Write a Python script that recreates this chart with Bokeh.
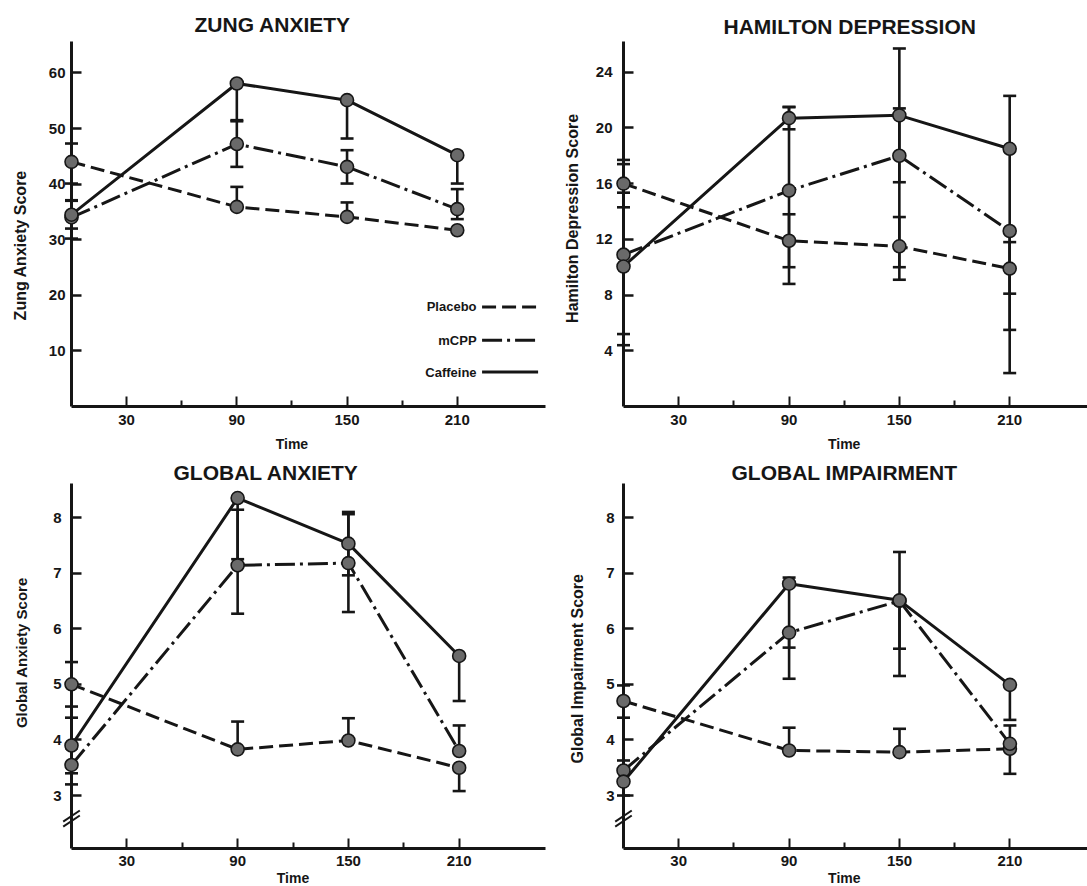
from math import pi

from bokeh.embed import file_html
from bokeh.core.properties import value
from bokeh.layouts import column, row
from bokeh.models import FixedTicker, Range1d
from bokeh.plotting import figure
from bokeh.resources import INLINE

# ---------------- data ----------------
TIME = [0, 90, 150, 210]
X_MAJOR_TICKS = [30, 90, 150, 210]
X_MINOR_TICKS = [60, 120, 180]
SERIES_NAMES = ["Placebo", "mCPP", "Caffeine"]

# Zung Anxiety
ZUNG_PLACEBO = [44.0, 35.9, 34.1, 31.7]
ZUNG_PLACEBO_UP = [3.3, 3.6, 2.6, 0.0]
ZUNG_PLACEBO_DN = [3.9, 0.0, 0.0, 0.0]
ZUNG_MCPP = [34.0, 47.2, 43.1, 35.5]
ZUNG_MCPP_UP = [3.1, 4.1, 3.0, 3.6]
ZUNG_MCPP_DN = [3.8, 4.1, 3.0, 1.8]
ZUNG_CAFF = [34.5, 58.1, 55.1, 45.2]
ZUNG_CAFF_UP = [2.5, 0.0, 0.0, 0.0]
ZUNG_CAFF_DN = [2.5, 6.6, 6.9, 5.1]
ZUNG_Y_TICKS = [10, 20, 30, 40, 50, 60]

# Hamilton Depression
HAM_PLACEBO = [16.0, 11.9, 11.5, 9.9]
HAM_PLACEBO_UP = [1.7, 1.9, 2.1, 1.9]
HAM_PLACEBO_DN = [1.7, 1.9, 1.5, 1.8]
HAM_MCPP = [10.9, 15.5, 18.0, 12.6]
HAM_MCPP_UP = [6.5, 6.0, 3.4, 0.0]
HAM_MCPP_DN = [6.5, 6.7, 8.9, 7.1]
HAM_CAFF = [10.05, 20.7, 20.9, 18.5]
HAM_CAFF_UP = [5.3, 0.8, 4.8, 3.8]
HAM_CAFF_DN = [4.85, 0.8, 4.8, 16.1]
HAM_Y_TICKS = [4, 8, 12, 16, 20, 24]

# Global Anxiety
GA_PLACEBO = [5.0, 3.83, 3.99, 3.5]
GA_PLACEBO_UP = [0.4, 0.5, 0.4, 0.0]
GA_PLACEBO_DN = [0.4, 0.0, 0.0, 0.42]
GA_MCPP = [3.55, 7.14, 7.18, 3.8]
GA_MCPP_UP = [0.3, 1.0, 0.88, 0.46]
GA_MCPP_DN = [0.35, 0.87, 0.88, 0.0]
GA_CAFF = [3.9, 8.35, 7.53, 5.51]
GA_CAFF_UP = [0.5, 0.0, 0.57, 0.0]
GA_CAFF_DN = [0.5, 1.1, 0.57, 0.81]

# Global Impairment
GI_PLACEBO = [4.7, 3.81, 3.78, 3.84]
GI_PLACEBO_UP = [0.28, 0.41, 0.42, 0.0]
GI_PLACEBO_DN = [0.3, 0.0, 0.0, 0.45]
GI_MCPP = [3.45, 5.93, 6.5, 3.93]
GI_MCPP_UP = [0.18, 0.0, 0.0, 0.33]
GI_MCPP_DN = [0.0, 0.83, 1.35, 0.0]
GI_CAFF = [3.25, 6.81, 6.51, 4.99]
GI_CAFF_UP = [0.0, 0.11, 0.87, 0.0]
GI_CAFF_DN = [0.25, 1.15, 0.87, 0.63]
GLOBAL_Y_TICKS = [3, 4, 5, 6, 7, 8]

# ---------------- styles ----------------
FONT = "Liberation Sans"
INK = "#161616"
MARKER_FILL = "#6a6a6a"
DASHES = {"Placebo": "14 6", "mCPP": "20 5 3 5", "Caffeine": "solid"}

# legend (panel 1) layout in data units
LEGEND_TEXT_X = 220.5
LEGEND_LINE_X = (223.5, 254.0)
LEGEND_ROWS_Y = [17.9, 11.9, 6.2]
TIME_LABEL_X = 120


def make_panel(cfg, series, y_ticks, title, ylabel, legend=False, y_break=None):
    sx, sy = cfg["x_scale"], cfg["y_scale"]
    x1 = cfg["frame_w"] / sx
    y0 = cfg["y_start"]
    y1 = y0 + cfg["frame_h"] / sy

    p = figure(
        frame_width=cfg["frame_w"], frame_height=cfg["frame_h"],
        x_range=Range1d(0, x1), y_range=Range1d(y0, y1),
        min_border_left=cfg["bl"], min_border_right=cfg["br"],
        min_border_top=cfg["bt"], min_border_bottom=cfg["bb"],
        toolbar_location=None, output_backend="svg", title=title,
    )
    p.outline_line_color = None
    p.xgrid.visible = False
    p.ygrid.visible = False
    p.background_fill_color = "white"
    p.border_fill_color = "white"

    t = p.title
    t.align = "left"
    t.offset = cfg["title_offset"]
    t.standoff = cfg["title_standoff"]
    t.vertical_align = "bottom"
    t.text_font = FONT
    t.text_font_size = "21px"
    t.text_font_style = "bold"
    t.text_color = INK

    xa = p.xaxis[0]
    xa.ticker = FixedTicker(ticks=X_MAJOR_TICKS, minor_ticks=X_MINOR_TICKS)
    xa.axis_line_width = 3
    xa.axis_line_color = INK
    xa.major_tick_in = 10
    xa.major_tick_out = 0
    xa.minor_tick_in = 6
    xa.minor_tick_out = 0
    xa.major_tick_line_width = 2
    xa.minor_tick_line_width = 2
    xa.major_tick_line_color = INK
    xa.minor_tick_line_color = INK
    xa.major_label_standoff = cfg["xlab_standoff"]
    xa.major_label_text_font = FONT
    xa.major_label_text_font_size = "15px"
    xa.major_label_text_font_style = "bold"
    xa.major_label_text_color = INK

    ya = p.yaxis[0]
    ya.ticker = FixedTicker(ticks=y_ticks, minor_ticks=[])
    ya.axis_line_width = 3
    ya.axis_line_color = INK
    ya.major_tick_in = 10
    ya.major_tick_out = 0
    ya.major_tick_line_width = 2.5
    ya.major_tick_line_color = INK
    ya.minor_tick_line_color = None
    ya.major_label_standoff = cfg["ylab_standoff"]
    ya.major_label_text_font = FONT
    ya.major_label_text_font_size = "15px"
    ya.major_label_text_font_style = "bold"
    ya.major_label_text_color = INK

    # connecting lines
    for name, (ys, up, dn) in zip(SERIES_NAMES, series):
        p.line(TIME, ys, line_width=3, line_color=INK, line_dash=DASHES[name])

    # error bars
    for name, (ys, up, dn) in zip(SERIES_NAMES, series):
        tops = [v + u for v, u in zip(ys, up)]
        bots = [v - d for v, d in zip(ys, dn)]
        p.segment(x0=TIME, y0=bots, x1=TIME, y1=tops, line_width=2.6, line_color=INK,
                  level="overlay")
        cx = [tt for tt, u in zip(TIME, up) if u > 0] + [tt for tt, d in zip(TIME, dn) if d > 0]
        cy = [v for v, u in zip(tops, up) if u > 0] + [v for v, d in zip(bots, dn) if d > 0]
        p.scatter(cx, cy, marker="dash", size=13, line_width=2.6, line_color=INK,
                  level="overlay")

    # points
    for name, (ys, up, dn) in zip(SERIES_NAMES, series):
        p.scatter(TIME, ys, marker="circle", size=13, fill_color=MARKER_FILL,
                  line_color=INK, line_width=1.6, level="overlay")

    if y_break is not None:
        for yb in y_break:
            p.segment(x0=[-4.5], y0=[yb - 0.1], x1=[4.5], y1=[yb + 0.1],
                      line_width=2, line_color=INK, level="overlay")

    if legend:
        p.text(x=[LEGEND_TEXT_X] * 3, y=LEGEND_ROWS_Y, text=SERIES_NAMES,
               text_align="right", text_baseline="middle",
               text_font=value(FONT), text_font_size="13px",
               text_font_style="bold", text_color=INK)
        for name, ly in zip(SERIES_NAMES, LEGEND_ROWS_Y):
            p.line(list(LEGEND_LINE_X), [ly, ly], line_width=3, line_color=INK,
                   line_dash=DASHES[name])

    # y-axis title (rotated)
    p.text(x=[cfg["ylabel_px"] / sx], y=[cfg["ylabel_y"]], text=[ylabel], angle=pi / 2,
           text_align="center", text_baseline="middle", text_font=value(FONT),
           text_font_size=cfg["ylabel_size"], text_font_style="bold", text_color=INK,
           level="overlay")
    # x-axis title
    p.text(x=[TIME_LABEL_X], y=[y0 - cfg["time_below"] / sy], text=["Time"],
           text_align="center", text_baseline="alphabetic", text_font=value(FONT),
           text_font_size="14px", text_font_style="bold", text_color=INK,
           level="overlay")
    return p


# top row: both frames share top (41) and bottom (406); bottom row: 483 .. 848
P1 = dict(bl=71, br=5, bt=41, bb=44, frame_w=474, frame_h=365, x_scale=1.837,
          y_start=0, y_scale=5.56, xlab_standoff=8, ylab_standoff=6,
          title_offset=123, title_standoff=12,
          ylabel_px=-50.7, ylabel_y=29.0, ylabel_size="16px", time_below=37)
P2 = dict(bl=73, br=0, bt=41, bb=44, frame_w=464, frame_h=365, x_scale=1.839,
          y_start=0, y_scale=13.93, xlab_standoff=8, ylab_standoff=11,
          title_offset=100, title_standoff=8,
          ylabel_px=-50.6, ylabel_y=13.5, ylabel_size="16px", time_below=37)
P3 = dict(bl=71, br=5, bt=33, bb=36, frame_w=474, frame_h=365, x_scale=1.846,
          y_start=2.047, y_scale=55.6, xlab_standoff=7, ylab_standoff=10,
          title_offset=102, title_standoff=0,
          ylabel_px=-50.1, ylabel_y=5.57, ylabel_size="15px", time_below=29)
P4 = dict(bl=73, br=0, bt=33, bb=36, frame_w=464, frame_h=365, x_scale=1.84,
          y_start=2.047, y_scale=55.6, xlab_standoff=7, ylab_standoff=9,
          title_offset=108, title_standoff=0,
          ylabel_px=-46.0, ylabel_y=5.28, ylabel_size="16px", time_below=29)

BREAK_Y = [2.54, 2.63]

p1 = make_panel(P1, [(ZUNG_PLACEBO, ZUNG_PLACEBO_UP, ZUNG_PLACEBO_DN),
                     (ZUNG_MCPP, ZUNG_MCPP_UP, ZUNG_MCPP_DN),
                     (ZUNG_CAFF, ZUNG_CAFF_UP, ZUNG_CAFF_DN)],
                ZUNG_Y_TICKS, "ZUNG ANXIETY", "Zung Anxiety Score", legend=True)
p2 = make_panel(P2, [(HAM_PLACEBO, HAM_PLACEBO_UP, HAM_PLACEBO_DN),
                     (HAM_MCPP, HAM_MCPP_UP, HAM_MCPP_DN),
                     (HAM_CAFF, HAM_CAFF_UP, HAM_CAFF_DN)],
                HAM_Y_TICKS, "HAMILTON DEPRESSION", "Hamilton Depression Score")
p3 = make_panel(P3, [(GA_PLACEBO, GA_PLACEBO_UP, GA_PLACEBO_DN),
                     (GA_MCPP, GA_MCPP_UP, GA_MCPP_DN),
                     (GA_CAFF, GA_CAFF_UP, GA_CAFF_DN)],
                GLOBAL_Y_TICKS, "GLOBAL ANXIETY", "Global Anxiety Score", y_break=BREAK_Y)
p4 = make_panel(P4, [(GI_PLACEBO, GI_PLACEBO_UP, GI_PLACEBO_DN),
                     (GI_MCPP, GI_MCPP_UP, GI_MCPP_DN),
                     (GI_CAFF, GI_CAFF_UP, GI_CAFF_DN)],
                GLOBAL_Y_TICKS, "GLOBAL IMPAIRMENT", "Global Impairment Score", y_break=BREAK_Y)

layout = column(row(p1, p2), row(p3, p4))

with open("out.html", "w") as f:
    f.write(file_html(layout, INLINE, title="Zung / Hamilton / Global scores"))
